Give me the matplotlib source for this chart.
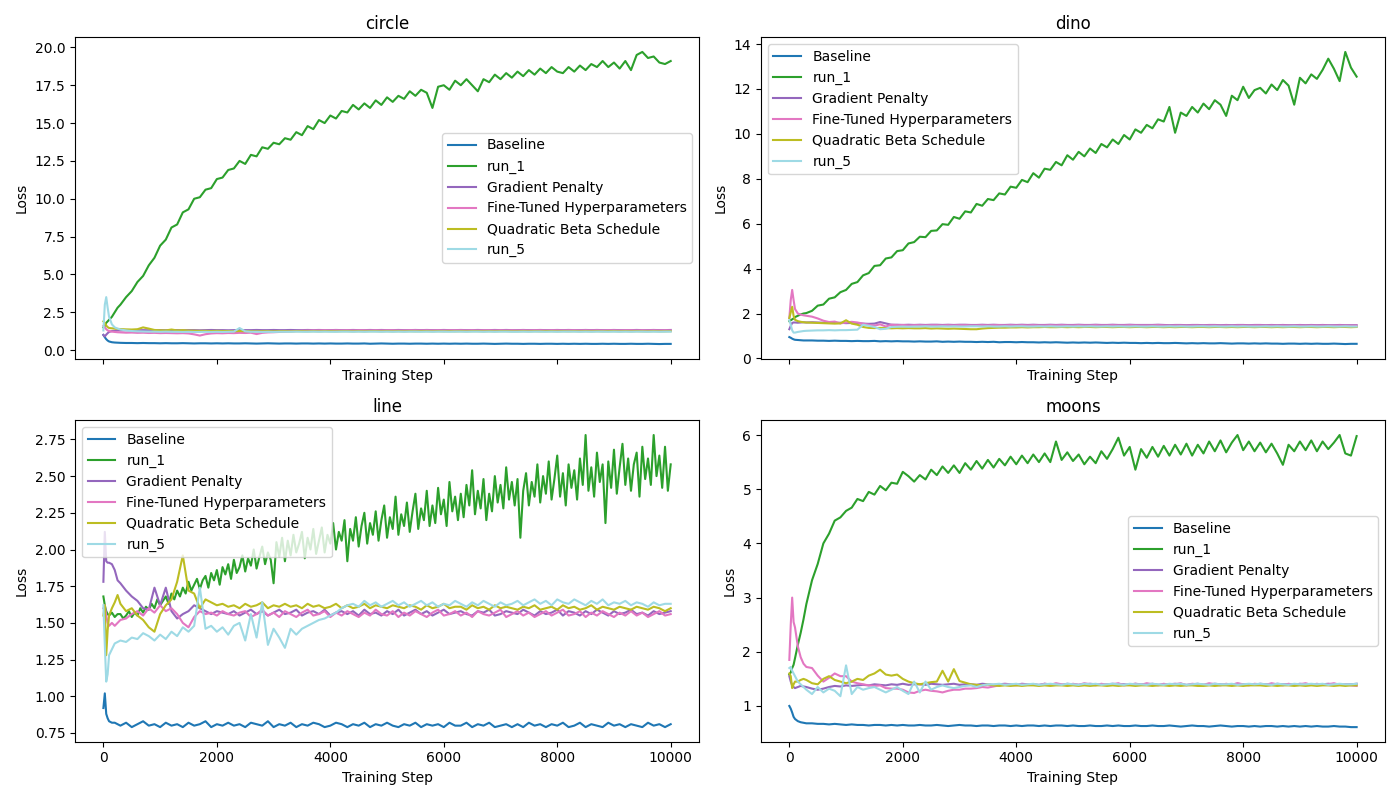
import matplotlib
matplotlib.use("Agg")
import matplotlib.pyplot as plt
import numpy as np

steps = [0, 25, 50, 75, 100, 150, 200, 250] + list(range(300, 10001, 100))
steps_fine = [0, 25, 50, 75, 100, 150, 200, 250] + list(range(300, 10001, 50))

labels = ["Baseline", "run_1", "Gradient Penalty", "Fine-Tuned Hyperparameters",
          "Quadratic Beta Schedule", "run_5"]
datasets = ["circle", "dino", "line", "moons"]
legend_locs = ["center right", "upper left", "upper left", "center right"]

# ---------------- circle ----------------
circle_baseline = [
    1.00, 0.85, 0.72, 0.63, 0.57, 0.52, 0.50, 0.49,
    0.48, 0.47, 0.47, 0.46, 0.47, 0.46, 0.46, 0.45, 0.46, 0.45,
    0.45, 0.46, 0.45, 0.44, 0.45, 0.45, 0.44, 0.45, 0.44, 0.45,
    0.44, 0.44, 0.45, 0.44, 0.43, 0.44, 0.45, 0.44, 0.43, 0.44,
    0.44, 0.43, 0.44, 0.44, 0.43, 0.44, 0.43, 0.44, 0.43, 0.43,
    0.44, 0.43, 0.43, 0.44, 0.42, 0.43, 0.44, 0.43, 0.42, 0.43,
    0.43, 0.42, 0.43, 0.43, 0.42, 0.43, 0.42, 0.43, 0.42, 0.43,
    0.42, 0.43, 0.42, 0.42, 0.43, 0.42, 0.41, 0.42, 0.43, 0.42,
    0.42, 0.41, 0.42, 0.42, 0.41, 0.42, 0.42, 0.41, 0.42, 0.41,
    0.42, 0.41, 0.42, 0.41, 0.41, 0.42, 0.41, 0.42, 0.41, 0.41,
    0.42, 0.41, 0.41, 0.42, 0.41, 0.40, 0.41, 0.41]
circle_run1 = [
    1.50, 1.60, 1.80, 1.90, 2.00, 2.20, 2.50, 2.80,
    3.00, 3.50, 3.90, 4.50, 4.90, 5.60, 6.10, 6.90, 7.30, 8.10,
    8.30, 9.10, 9.30, 10.00, 10.10, 10.60, 10.70, 11.30, 11.40, 11.90,
    12.00, 12.50, 12.30, 12.90, 12.80, 13.40, 13.30, 13.70, 13.60, 14.00,
    13.90, 14.40, 14.20, 14.80, 14.60, 15.20, 15.00, 15.50, 15.30, 15.80,
    15.70, 16.20, 15.90, 16.30, 16.00, 16.50, 16.20, 16.70, 16.40, 16.80,
    16.60, 17.10, 16.80, 17.20, 17.00, 16.00, 17.40, 17.50, 17.20, 17.80,
    17.50, 17.90, 17.50, 17.10, 17.90, 17.70, 18.20, 17.90, 18.30, 18.00,
    18.40, 18.10, 18.50, 18.20, 18.60, 18.30, 18.70, 18.40, 18.30, 18.70,
    18.40, 18.80, 18.50, 18.90, 18.70, 19.10, 18.70, 19.00, 18.60, 19.10,
    18.50, 19.50, 19.70, 19.30, 19.40, 19.00, 18.90, 19.10]
circle_gp = [
    1.00, 0.90, 1.02, 1.12, 1.20, 1.26, 1.28, 1.30,
    1.30, 1.31, 1.30, 1.31, 1.32, 1.31, 1.31, 1.32, 1.31, 1.32,
    1.32, 1.31, 1.32, 1.32, 1.31, 1.32, 1.33, 1.32, 1.32, 1.31,
    1.32, 1.33, 1.32, 1.32, 1.33, 1.32, 1.32, 1.33, 1.32, 1.32,
    1.33, 1.32, 1.32, 1.33, 1.32, 1.33, 1.32, 1.32, 1.33, 1.32,
    1.32, 1.33, 1.32, 1.32, 1.33, 1.32, 1.33, 1.32, 1.32, 1.33,
    1.32, 1.32, 1.33, 1.32, 1.33, 1.32, 1.32, 1.33, 1.32, 1.32,
    1.33, 1.32, 1.32, 1.33, 1.32, 1.32, 1.33, 1.32, 1.33, 1.32,
    1.32, 1.33, 1.32, 1.32, 1.33, 1.32, 1.32, 1.33, 1.32, 1.33,
    1.32, 1.32, 1.33, 1.32, 1.33, 1.32, 1.32, 1.33, 1.32, 1.32,
    1.32, 1.33, 1.32, 1.32, 1.33, 1.32, 1.32, 1.33]
circle_ft = [
    1.60, 1.50, 1.38, 1.30, 1.26, 1.22, 1.20, 1.18,
    1.17, 1.15, 1.16, 1.14, 1.15, 1.13, 1.14, 1.12, 1.13, 1.12,
    1.11, 1.12, 1.10, 1.04, 0.96, 1.05, 1.10, 1.12, 1.11, 1.13,
    1.12, 1.14, 1.13, 1.15, 1.06, 1.14, 1.17, 1.18, 1.20, 1.22,
    1.24, 1.26, 1.28, 1.29, 1.30, 1.30, 1.31, 1.30, 1.31, 1.30,
    1.31, 1.30, 1.31, 1.31, 1.30, 1.31, 1.30, 1.31, 1.31, 1.30,
    1.30, 1.31, 1.31, 1.30, 1.31, 1.30, 1.31, 1.30, 1.31, 1.31,
    1.31, 1.30, 1.31, 1.30, 1.31, 1.31, 1.30, 1.31, 1.30, 1.31,
    1.30, 1.31, 1.30, 1.31, 1.31, 1.30, 1.31, 1.31, 1.30, 1.31,
    1.31, 1.30, 1.31, 1.30, 1.31, 1.30, 1.31, 1.31, 1.30, 1.31,
    1.31, 1.30, 1.31, 1.30, 1.31, 1.30, 1.31, 1.30]
circle_qb = [
    1.90, 1.80, 1.62, 1.52, 1.46, 1.44, 1.42, 1.40,
    1.39, 1.37, 1.36, 1.38, 1.50, 1.42, 1.33, 1.31, 1.30, 1.36,
    1.30, 1.32, 1.29, 1.28, 1.27, 1.27, 1.26, 1.27, 1.26, 1.26,
    1.25, 1.26, 1.25, 1.25, 1.24, 1.25, 1.25, 1.24, 1.25, 1.25,
    1.24, 1.25, 1.25, 1.24, 1.25, 1.24, 1.25, 1.25, 1.24, 1.25,
    1.25, 1.24, 1.25, 1.24, 1.25, 1.25, 1.24, 1.25, 1.24, 1.25,
    1.24, 1.25, 1.24, 1.25, 1.25, 1.24, 1.25, 1.24, 1.25, 1.24,
    1.25, 1.24, 1.25, 1.25, 1.24, 1.25, 1.24, 1.25, 1.25, 1.24,
    1.24, 1.25, 1.24, 1.25, 1.24, 1.25, 1.25, 1.24, 1.25, 1.24,
    1.25, 1.24, 1.25, 1.24, 1.25, 1.24, 1.25, 1.25, 1.24, 1.25,
    1.24, 1.25, 1.24, 1.24, 1.25, 1.24, 1.24, 1.25]
circle_r5 = [
    1.30, 3.00, 3.50, 2.80, 2.20, 1.70, 1.50, 1.42,
    1.36, 1.30, 1.26, 1.24, 1.23, 1.22, 1.22, 1.21, 1.22, 1.21,
    1.21, 1.20, 1.21, 1.20, 1.20, 1.21, 1.20, 1.21, 1.20, 1.21,
    1.22, 1.46, 1.24, 1.21, 1.21, 1.20, 1.21, 1.20, 1.21, 1.21,
    1.21, 1.22, 1.21, 1.21, 1.22, 1.21, 1.22, 1.21, 1.21, 1.22,
    1.22, 1.21, 1.22, 1.21, 1.22, 1.22, 1.21, 1.22, 1.21, 1.22,
    1.21, 1.22, 1.22, 1.21, 1.22, 1.21, 1.22, 1.22, 1.21, 1.22,
    1.22, 1.21, 1.22, 1.22, 1.21, 1.22, 1.21, 1.22, 1.22, 1.21,
    1.21, 1.22, 1.21, 1.22, 1.22, 1.21, 1.22, 1.21, 1.22, 1.22,
    1.22, 1.21, 1.22, 1.21, 1.22, 1.22, 1.21, 1.22, 1.21, 1.22,
    1.21, 1.22, 1.22, 1.21, 1.22, 1.21, 1.22, 1.22]

# ---------------- dino ----------------
dino_baseline = [
    0.95, 0.92, 0.88, 0.85, 0.83, 0.82, 0.81, 0.80,
    0.80, 0.80, 0.79, 0.79, 0.78, 0.79, 0.78, 0.78, 0.77, 0.78,
    0.77, 0.77, 0.78, 0.76, 0.77, 0.76, 0.77, 0.76, 0.76, 0.75,
    0.76, 0.75, 0.75, 0.76, 0.74, 0.75, 0.74, 0.75, 0.74, 0.74,
    0.73, 0.74, 0.73, 0.74, 0.72, 0.73, 0.73, 0.72, 0.73, 0.72,
    0.72, 0.71, 0.72, 0.71, 0.72, 0.71, 0.70, 0.71, 0.70, 0.71,
    0.70, 0.71, 0.70, 0.69, 0.70, 0.69, 0.70, 0.69, 0.69, 0.68,
    0.69, 0.68, 0.69, 0.68, 0.68, 0.69, 0.68, 0.67, 0.68, 0.67,
    0.68, 0.67, 0.67, 0.68, 0.67, 0.66, 0.67, 0.67, 0.66, 0.67,
    0.66, 0.67, 0.66, 0.66, 0.65, 0.66, 0.66, 0.65, 0.66, 0.65,
    0.66, 0.65, 0.65, 0.66, 0.65, 0.64, 0.65, 0.65]
dino_run1 = [
    1.66, 1.70, 1.74, 1.78, 1.84, 1.90, 1.96, 2.00,
    2.02, 2.12, 2.35, 2.40, 2.66, 2.72, 2.95, 3.05, 3.32, 3.40,
    3.70, 3.80, 4.12, 4.15, 4.45, 4.50, 4.78, 4.82, 5.12, 5.18,
    5.42, 5.40, 5.68, 5.70, 5.98, 5.95, 6.30, 6.22, 6.55, 6.50,
    6.88, 6.80, 7.10, 7.05, 7.35, 7.30, 7.65, 7.60, 7.95, 7.85,
    8.25, 8.05, 8.45, 8.40, 8.75, 8.60, 9.05, 8.85, 9.20, 9.00,
    9.35, 9.15, 9.55, 9.40, 9.75, 9.55, 9.95, 9.75, 10.20, 10.05,
    10.40, 10.25, 10.65, 10.55, 11.20, 10.05, 10.95, 10.80, 11.20, 10.95,
    11.35, 11.10, 11.50, 11.30, 10.80, 11.70, 11.50, 12.10, 11.60, 11.95,
    12.05, 11.80, 12.20, 11.95, 12.40, 12.15, 11.30, 12.50, 12.25, 12.65,
    12.45, 12.85, 13.35, 12.90, 12.35, 13.65, 12.95, 12.55]
dino_gp = [
    1.30, 1.45, 1.58, 1.60, 1.60, 1.59, 1.60, 1.61,
    1.60, 1.61, 1.60, 1.59, 1.60, 1.58, 1.59, 1.57, 1.58, 1.56,
    1.55, 1.54, 1.55, 1.62, 1.56, 1.50, 1.50, 1.49, 1.50, 1.49,
    1.50, 1.49, 1.50, 1.50, 1.49, 1.50, 1.49, 1.50, 1.50, 1.49,
    1.49, 1.50, 1.49, 1.50, 1.49, 1.49, 1.50, 1.49, 1.50, 1.49,
    1.50, 1.49, 1.49, 1.50, 1.49, 1.50, 1.49, 1.49, 1.50, 1.49,
    1.49, 1.50, 1.49, 1.49, 1.50, 1.49, 1.49, 1.50, 1.49, 1.49,
    1.49, 1.49, 1.50, 1.49, 1.48, 1.49, 1.49, 1.48, 1.49, 1.49,
    1.48, 1.49, 1.49, 1.48, 1.49, 1.48, 1.49, 1.49, 1.48, 1.49,
    1.49, 1.48, 1.49, 1.48, 1.49, 1.48, 1.48, 1.49, 1.48, 1.49,
    1.48, 1.49, 1.48, 1.48, 1.49, 1.48, 1.48, 1.48]
dino_ft = [
    1.80, 2.60, 3.05, 2.60, 2.20, 2.00, 1.95, 1.92,
    1.90, 1.86, 1.78, 1.68, 1.62, 1.64, 1.56, 1.60, 1.63, 1.60,
    1.55, 1.50, 1.46, 1.52, 1.42, 1.50, 1.48, 1.49, 1.47, 1.48,
    1.48, 1.47, 1.48, 1.48, 1.47, 1.48, 1.47, 1.48, 1.48, 1.47,
    1.47, 1.48, 1.47, 1.48, 1.48, 1.47, 1.48, 1.47, 1.48, 1.47,
    1.48, 1.47, 1.47, 1.48, 1.47, 1.48, 1.47, 1.47, 1.48, 1.47,
    1.47, 1.48, 1.47, 1.47, 1.48, 1.47, 1.47, 1.48, 1.47, 1.47,
    1.47, 1.47, 1.48, 1.47, 1.46, 1.47, 1.47, 1.46, 1.47, 1.47,
    1.46, 1.47, 1.47, 1.46, 1.47, 1.46, 1.47, 1.47, 1.46, 1.47,
    1.47, 1.46, 1.47, 1.46, 1.47, 1.46, 1.46, 1.47, 1.46, 1.47,
    1.46, 1.47, 1.46, 1.46, 1.47, 1.46, 1.46, 1.46]
dino_qb = [
    1.80, 2.05, 2.30, 1.90, 1.72, 1.66, 1.63, 1.61,
    1.60, 1.59, 1.58, 1.57, 1.56, 1.55, 1.56, 1.70, 1.55, 1.50,
    1.40, 1.36, 1.35, 1.36, 1.35, 1.34, 1.35, 1.34, 1.35, 1.34,
    1.34, 1.35, 1.33, 1.34, 1.33, 1.32, 1.33, 1.32, 1.31, 1.30,
    1.30, 1.33, 1.35, 1.36, 1.37, 1.37, 1.38, 1.38, 1.39, 1.38,
    1.39, 1.39, 1.40, 1.39, 1.39, 1.40, 1.39, 1.40, 1.39, 1.40,
    1.40, 1.39, 1.40, 1.40, 1.39, 1.40, 1.40, 1.39, 1.40, 1.40,
    1.39, 1.40, 1.40, 1.39, 1.40, 1.39, 1.40, 1.40, 1.39, 1.40,
    1.40, 1.39, 1.40, 1.40, 1.39, 1.40, 1.39, 1.40, 1.40, 1.39,
    1.40, 1.40, 1.39, 1.40, 1.39, 1.40, 1.40, 1.39, 1.40, 1.40,
    1.39, 1.40, 1.40, 1.39, 1.40, 1.40, 1.39, 1.40]
dino_r5 = [
    1.70, 1.50, 1.25, 1.15, 1.15, 1.18, 1.20, 1.22,
    1.23, 1.24, 1.25, 1.25, 1.26, 1.25, 1.26, 1.26, 1.27, 1.28,
    1.50, 1.45, 1.40, 1.30, 1.32, 1.40, 1.41, 1.42, 1.41, 1.42,
    1.42, 1.43, 1.42, 1.42, 1.43, 1.42, 1.43, 1.42, 1.42, 1.43,
    1.43, 1.42, 1.43, 1.42, 1.42, 1.43, 1.42, 1.43, 1.43, 1.42,
    1.42, 1.43, 1.42, 1.43, 1.42, 1.42, 1.43, 1.42, 1.43, 1.42,
    1.43, 1.42, 1.42, 1.43, 1.42, 1.43, 1.42, 1.42, 1.43, 1.42,
    1.42, 1.43, 1.42, 1.42, 1.43, 1.42, 1.43, 1.42, 1.42, 1.43,
    1.43, 1.42, 1.43, 1.42, 1.42, 1.43, 1.42, 1.43, 1.42, 1.42,
    1.42, 1.43, 1.42, 1.43, 1.42, 1.42, 1.43, 1.42, 1.42, 1.43,
    1.42, 1.42, 1.43, 1.42, 1.42, 1.43, 1.42, 1.42]

# ---------------- line ----------------
line_baseline = [
    0.92, 1.02, 0.88, 0.85, 0.83, 0.82, 0.82, 0.81,
    0.80, 0.82, 0.79, 0.81, 0.83, 0.80, 0.81, 0.79, 0.82, 0.80,
    0.81, 0.79, 0.82, 0.80, 0.81, 0.83, 0.79, 0.81, 0.80, 0.82,
    0.80, 0.81, 0.79, 0.82, 0.81, 0.80, 0.83, 0.79, 0.81, 0.80,
    0.82, 0.79, 0.81, 0.80, 0.82, 0.81, 0.79, 0.80, 0.82, 0.81,
    0.79, 0.81, 0.80, 0.82, 0.79, 0.81, 0.80, 0.82, 0.80, 0.79,
    0.81, 0.80, 0.82, 0.79, 0.81, 0.80, 0.81, 0.79, 0.82, 0.80,
    0.80, 0.82, 0.79, 0.81, 0.80, 0.82, 0.79, 0.80, 0.81, 0.79,
    0.81, 0.79, 0.82, 0.80, 0.81, 0.79, 0.81, 0.80, 0.82, 0.79,
    0.80, 0.82, 0.79, 0.81, 0.80, 0.79, 0.82, 0.80, 0.81, 0.79,
    0.81, 0.80, 0.79, 0.82, 0.80, 0.81, 0.79, 0.81]
line_run1 = [
    1.68, 1.62, 1.58, 1.56, 1.55, 1.57, 1.54, 1.56,
    1.56, 1.53, 1.55, 1.58, 1.54, 1.57, 1.55, 1.60, 1.57, 1.61,
    1.59, 1.63, 1.60, 1.66, 1.62, 1.65, 1.68, 1.63, 1.70, 1.66,
    1.72, 1.68, 1.74, 1.70, 1.78, 1.72, 1.76, 1.80, 1.73, 1.79,
    1.82, 1.74, 1.84, 1.79, 1.86, 1.76, 1.88, 1.83, 1.90, 1.80,
    1.93, 1.84, 1.88, 1.96, 1.85, 1.94, 1.89, 2.00, 1.87, 1.95,
    2.02, 1.90, 1.98, 1.93, 1.77, 2.05, 1.95, 2.08, 1.92, 2.06,
    1.96, 2.10, 1.98, 2.04, 2.12, 1.94, 2.08, 2.00, 2.14, 1.97,
    2.06, 2.15, 1.98, 2.10, 2.04, 2.18, 2.00, 2.12, 2.06, 2.20,
    1.92, 2.14, 2.06, 2.22, 2.02, 2.16, 2.25, 2.04, 2.18, 2.10,
    2.26, 2.06, 2.20, 2.30, 2.08, 2.22, 2.14, 2.36, 2.10, 2.24,
    2.16, 2.32, 2.12, 2.26, 2.38, 2.14, 2.28, 2.20, 2.40, 2.16,
    2.30, 2.18, 2.42, 2.24, 2.34, 2.16, 2.46, 2.26, 2.36, 2.20,
    2.38, 2.22, 2.44, 2.30, 2.54, 2.24, 2.40, 2.28, 2.48, 2.20,
    2.38, 2.26, 2.50, 2.32, 2.44, 2.28, 2.56, 2.34, 2.46, 2.30,
    2.48, 2.08, 2.40, 2.52, 2.30, 2.46, 2.36, 2.58, 2.32, 2.50,
    2.38, 2.60, 2.34, 2.48, 2.64, 2.36, 2.52, 2.30, 2.58, 2.42,
    2.54, 2.34, 2.62, 2.44, 2.78, 2.40, 2.56, 2.36, 2.66, 2.46,
    2.58, 2.18, 2.60, 2.42, 2.68, 2.38, 2.56, 2.72, 2.44, 2.62,
    2.40, 2.58, 2.66, 2.36, 2.70, 2.48, 2.62, 2.44, 2.78, 2.50,
    2.64, 2.42, 2.70, 2.40, 2.58]
line_gp = [
    1.78, 2.12, 1.92, 1.91, 1.91, 1.90, 1.86, 1.79,
    1.77, 1.72, 1.68, 1.65, 1.60, 1.59, 1.74, 1.62, 1.74, 1.58,
    1.53, 1.56, 1.58, 1.62, 1.60, 1.58, 1.56, 1.58, 1.57, 1.56,
    1.58, 1.55, 1.57, 1.59, 1.56, 1.58, 1.55, 1.57, 1.59, 1.56,
    1.57, 1.59, 1.55, 1.57, 1.58, 1.56, 1.59, 1.55, 1.57, 1.58,
    1.56, 1.58, 1.55, 1.59, 1.56, 1.57, 1.55, 1.58, 1.56, 1.59,
    1.55, 1.57, 1.59, 1.56, 1.58, 1.55, 1.57, 1.59, 1.56, 1.57,
    1.58, 1.56, 1.55, 1.58, 1.57, 1.59, 1.55, 1.56, 1.58, 1.57,
    1.56, 1.59, 1.57, 1.55, 1.58, 1.56, 1.57, 1.59, 1.55, 1.58,
    1.57, 1.55, 1.58, 1.56, 1.59, 1.57, 1.55, 1.58, 1.56, 1.57,
    1.59, 1.56, 1.57, 1.55, 1.58, 1.56, 1.57, 1.58]
line_ft = [
    1.60, 1.62, 1.55, 1.50, 1.48, 1.50, 1.48, 1.50,
    1.52, 1.53, 1.56, 1.58, 1.55, 1.60, 1.57, 1.62, 1.58, 1.60,
    1.56, 1.50, 1.47, 1.54, 1.58, 1.56, 1.57, 1.55, 1.58, 1.56,
    1.55, 1.57, 1.58, 1.54, 1.56, 1.59, 1.55, 1.57, 1.54, 1.58,
    1.56, 1.54, 1.57, 1.59, 1.55, 1.56, 1.58, 1.54, 1.57, 1.55,
    1.58, 1.56, 1.54, 1.57, 1.55, 1.59, 1.56, 1.55, 1.58, 1.54,
    1.57, 1.55, 1.58, 1.56, 1.54, 1.57, 1.59, 1.55, 1.56, 1.58,
    1.55, 1.57, 1.54, 1.58, 1.56, 1.55, 1.57, 1.59, 1.54, 1.56,
    1.58, 1.55, 1.57, 1.54, 1.56, 1.58, 1.55, 1.57, 1.59, 1.55,
    1.56, 1.58, 1.54, 1.57, 1.55, 1.58, 1.56, 1.54, 1.57, 1.55,
    1.58, 1.55, 1.57, 1.54, 1.56, 1.58, 1.55, 1.56]
line_qb = [
    1.55, 1.62, 1.28, 1.45, 1.55, 1.60, 1.64, 1.69,
    1.63, 1.58, 1.60, 1.55, 1.52, 1.47, 1.44, 1.56, 1.62, 1.66,
    1.78, 1.96, 1.72, 1.70, 1.60, 1.66, 1.64, 1.62, 1.63, 1.61,
    1.62, 1.60, 1.63, 1.61, 1.62, 1.64, 1.60, 1.62, 1.61, 1.63,
    1.61, 1.62, 1.60, 1.63, 1.61, 1.62, 1.60, 1.61, 1.63, 1.60,
    1.62, 1.60, 1.61, 1.63, 1.60, 1.62, 1.61, 1.60, 1.62, 1.61,
    1.60, 1.62, 1.61, 1.59, 1.62, 1.60, 1.61, 1.63, 1.60, 1.61,
    1.61, 1.59, 1.62, 1.60, 1.61, 1.59, 1.62, 1.60, 1.61, 1.60,
    1.59, 1.61, 1.60, 1.62, 1.59, 1.60, 1.61, 1.59, 1.62, 1.60,
    1.61, 1.59, 1.60, 1.62, 1.59, 1.61, 1.60, 1.59, 1.61, 1.60,
    1.59, 1.61, 1.60, 1.59, 1.61, 1.60, 1.58, 1.60]
line_r5 = [
    1.62, 1.35, 1.10, 1.15, 1.28, 1.32, 1.36, 1.37,
    1.38, 1.37, 1.40, 1.39, 1.43, 1.41, 1.38, 1.42, 1.39, 1.44,
    1.41, 1.47, 1.44, 1.48, 1.74, 1.46, 1.48, 1.44, 1.47, 1.42,
    1.48, 1.50, 1.38, 1.56, 1.40, 1.64, 1.35, 1.46, 1.40, 1.33,
    1.46, 1.42, 1.46, 1.48, 1.50, 1.52, 1.53, 1.55, 1.57, 1.60,
    1.62, 1.63, 1.61, 1.65, 1.62, 1.64, 1.61, 1.63, 1.65, 1.62,
    1.64, 1.61, 1.63, 1.65, 1.62, 1.64, 1.61, 1.63, 1.62, 1.65,
    1.63, 1.61, 1.64, 1.62, 1.65, 1.63, 1.61, 1.64, 1.62, 1.63,
    1.65, 1.62, 1.64, 1.66, 1.63, 1.65, 1.62, 1.66, 1.64, 1.63,
    1.66, 1.64, 1.62, 1.65, 1.63, 1.66, 1.62, 1.64, 1.63, 1.65,
    1.62, 1.64, 1.63, 1.61, 1.64, 1.62, 1.63, 1.63]

# ---------------- moons ----------------
moons_baseline = [
    1.00, 0.95, 0.88, 0.80, 0.76, 0.72, 0.70, 0.69,
    0.68, 0.68, 0.67, 0.67, 0.66, 0.67, 0.66, 0.65, 0.66, 0.65,
    0.65, 0.64, 0.65, 0.65, 0.64, 0.65, 0.64, 0.65, 0.64, 0.64,
    0.65, 0.64, 0.64, 0.65, 0.64, 0.63, 0.64, 0.65, 0.64, 0.64,
    0.63, 0.64, 0.64, 0.63, 0.64, 0.64, 0.63, 0.64, 0.63, 0.64,
    0.64, 0.63, 0.64, 0.63, 0.64, 0.64, 0.63, 0.64, 0.63, 0.63,
    0.64, 0.63, 0.63, 0.64, 0.63, 0.64, 0.63, 0.63, 0.64, 0.63,
    0.63, 0.64, 0.63, 0.63, 0.64, 0.63, 0.62, 0.63, 0.64, 0.63,
    0.63, 0.62, 0.63, 0.64, 0.63, 0.62, 0.63, 0.63, 0.62, 0.63,
    0.62, 0.63, 0.63, 0.62, 0.63, 0.62, 0.63, 0.62, 0.63, 0.62,
    0.63, 0.62, 0.62, 0.63, 0.62, 0.62, 0.61, 0.61]
moons_run1 = [
    1.58, 1.62, 1.70, 1.76, 1.88, 2.13, 2.35, 2.60,
    2.88, 3.32, 3.62, 4.00, 4.18, 4.42, 4.48, 4.60, 4.66, 4.82,
    4.78, 4.95, 4.90, 5.06, 4.98, 5.12, 5.10, 5.32, 5.24, 5.14,
    5.26, 5.18, 5.36, 5.26, 5.42, 5.30, 5.44, 5.30, 5.48, 5.36,
    5.52, 5.38, 5.54, 5.40, 5.56, 5.44, 5.60, 5.46, 5.62, 5.48,
    5.64, 5.50, 5.66, 5.50, 5.88, 5.54, 5.68, 5.52, 5.64, 5.46,
    5.60, 5.48, 5.70, 5.56, 5.74, 5.95, 5.62, 5.78, 5.36, 5.74,
    5.58, 5.78, 5.60, 5.80, 5.62, 5.82, 5.64, 5.84, 5.62, 5.82,
    5.66, 5.88, 5.70, 5.90, 5.68, 5.86, 6.00, 5.72, 5.88, 5.70,
    5.86, 5.68, 5.84, 5.66, 5.45, 5.82, 5.70, 5.88, 5.72, 5.90,
    5.70, 5.88, 5.74, 5.86, 6.00, 5.66, 5.62, 5.98]
moons_gp = [
    1.55, 1.45, 1.38, 1.35, 1.33, 1.35, 1.37, 1.36,
    1.35, 1.32, 1.30, 1.32, 1.35, 1.37, 1.36, 1.38, 1.37, 1.38,
    1.39, 1.38, 1.40, 1.39, 1.38, 1.40, 1.39, 1.41, 1.39, 1.40,
    1.40, 1.39, 1.41, 1.40, 1.39, 1.40, 1.41, 1.39, 1.40, 1.40,
    1.39, 1.41, 1.40, 1.39, 1.40, 1.41, 1.40, 1.39, 1.41, 1.40,
    1.40, 1.39, 1.41, 1.40, 1.40, 1.39, 1.41, 1.40, 1.39, 1.40,
    1.41, 1.40, 1.39, 1.40, 1.41, 1.40, 1.40, 1.39, 1.41, 1.40,
    1.40, 1.41, 1.39, 1.40, 1.40, 1.41, 1.40, 1.39, 1.40, 1.41,
    1.39, 1.40, 1.41, 1.40, 1.39, 1.40, 1.41, 1.40, 1.40, 1.39,
    1.41, 1.40, 1.39, 1.41, 1.40, 1.40, 1.39, 1.41, 1.40, 1.40,
    1.39, 1.40, 1.41, 1.40, 1.39, 1.40, 1.40, 1.41]
moons_ft = [
    1.85, 2.50, 3.00, 2.55, 2.45, 2.10, 1.90, 1.78,
    1.72, 1.70, 1.56, 1.45, 1.52, 1.60, 1.55, 1.55, 1.45, 1.42,
    1.40, 1.38, 1.37, 1.38, 1.33, 1.32, 1.32, 1.30, 1.25, 1.24,
    1.28, 1.30, 1.28, 1.27, 1.25, 1.28, 1.30, 1.30, 1.32, 1.32,
    1.33, 1.35, 1.34, 1.36, 1.38, 1.40, 1.39, 1.38, 1.40, 1.39,
    1.40, 1.38, 1.41, 1.39, 1.42, 1.40, 1.38, 1.41, 1.39, 1.42,
    1.40, 1.38, 1.41, 1.39, 1.40, 1.42, 1.38, 1.40, 1.41, 1.39,
    1.42, 1.40, 1.38, 1.41, 1.39, 1.40, 1.42, 1.38, 1.41, 1.40,
    1.39, 1.42, 1.40, 1.38, 1.41, 1.39, 1.42, 1.40, 1.38, 1.41,
    1.40, 1.39, 1.42, 1.40, 1.38, 1.41, 1.39, 1.40, 1.42, 1.39,
    1.41, 1.39, 1.40, 1.42, 1.39, 1.40, 1.38, 1.37]
moons_qb = [
    1.60, 1.55, 1.33, 1.40, 1.45, 1.45, 1.48, 1.50,
    1.48, 1.42, 1.40, 1.50, 1.55, 1.48, 1.45, 1.42, 1.45, 1.50,
    1.48, 1.56, 1.60, 1.67, 1.58, 1.56, 1.58, 1.50, 1.45, 1.42,
    1.40, 1.42, 1.44, 1.45, 1.65, 1.45, 1.68, 1.46, 1.43, 1.40,
    1.39, 1.38, 1.40, 1.38, 1.37, 1.38, 1.37, 1.38, 1.37, 1.38,
    1.38, 1.37, 1.38, 1.37, 1.38, 1.38, 1.37, 1.38, 1.37, 1.38,
    1.37, 1.38, 1.38, 1.37, 1.38, 1.37, 1.38, 1.38, 1.37, 1.38,
    1.38, 1.37, 1.38, 1.38, 1.37, 1.38, 1.37, 1.38, 1.38, 1.37,
    1.37, 1.38, 1.37, 1.38, 1.38, 1.37, 1.38, 1.37, 1.38, 1.38,
    1.38, 1.37, 1.38, 1.37, 1.38, 1.38, 1.37, 1.38, 1.37, 1.38,
    1.37, 1.38, 1.38, 1.37, 1.38, 1.37, 1.38, 1.38]
moons_r5 = [
    1.70, 1.72, 1.65, 1.60, 1.55, 1.45, 1.40, 1.35,
    1.30, 1.22, 1.35, 1.25, 1.32, 1.28, 1.18, 1.75, 1.22, 1.35,
    1.30, 1.33, 1.35, 1.30, 1.25, 1.30, 1.35, 1.28, 1.22, 1.45,
    1.25, 1.45, 1.30, 1.35, 1.38, 1.35, 1.33, 1.35, 1.37, 1.38,
    1.35, 1.38, 1.40, 1.40, 1.41, 1.39, 1.40, 1.41, 1.39, 1.40,
    1.41, 1.39, 1.40, 1.41, 1.40, 1.39, 1.41, 1.40, 1.39, 1.41,
    1.40, 1.41, 1.39, 1.40, 1.41, 1.40, 1.39, 1.41, 1.40, 1.40,
    1.39, 1.41, 1.40, 1.39, 1.41, 1.40, 1.41, 1.39, 1.40, 1.41,
    1.40, 1.39, 1.41, 1.40, 1.40, 1.41, 1.39, 1.40, 1.41, 1.40,
    1.41, 1.40, 1.39, 1.41, 1.40, 1.39, 1.41, 1.40, 1.40, 1.41,
    1.40, 1.41, 1.39, 1.40, 1.41, 1.40, 1.40, 1.41]

series = {
    "circle": [circle_baseline, circle_run1, circle_gp, circle_ft, circle_qb, circle_r5],
    "dino": [dino_baseline, dino_run1, dino_gp, dino_ft, dino_qb, dino_r5],
    "line": [line_baseline, line_run1, line_gp, line_ft, line_qb, line_r5],
    "moons": [moons_baseline, moons_run1, moons_gp, moons_ft, moons_qb, moons_r5],
}


def x_for(vals):
    return steps_fine if len(vals) == len(steps_fine) else steps


for name, lst in series.items():
    for lab, vals in zip(labels, lst):
        if len(vals) not in (len(steps), len(steps_fine)):
            raise ValueError(f"{name}/{lab}: {len(vals)}")

colors = plt.cm.tab20(np.linspace(0, 1, len(labels)))

fig, axes = plt.subplots(2, 2, figsize=(14, 8), sharex=True)
for ax, name, loc in zip(axes.flat, datasets, legend_locs):
    for lab, vals, col in zip(labels, series[name], colors):
        ax.plot(x_for(vals), vals, label=lab, color=col)
    ax.set_title(name)
    ax.set_xlabel("Training Step")
    ax.set_ylabel("Loss")
    ax.legend(loc=loc)

plt.tight_layout()
plt.savefig("out.png", dpi=100)
